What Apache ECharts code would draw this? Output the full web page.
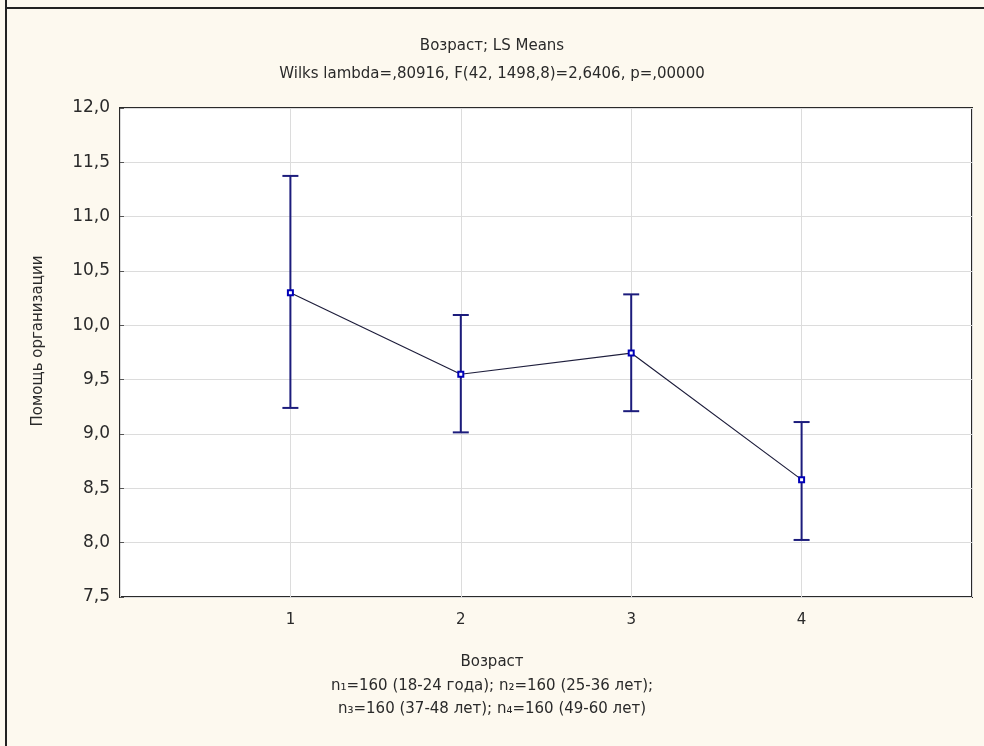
<!DOCTYPE html>
<html>
<head>
<meta charset="utf-8">
<script src="https://cdn.jsdelivr.net/npm/echarts@6/dist/echarts.min.js"></script>
<style>
html,body{margin:0;padding:0;background:#fdf9ef;}
#chart{width:984px;height:746px;}
</style>
</head>
<body>
<div id="chart"></div>
<script>
var categories = [1, 2, 3, 4];
var means = [10.30, 9.55, 9.745, 8.58];
var lower = [9.24, 9.015, 9.21, 8.025];
var upper = [11.375, 10.095, 10.285, 9.11];
var yTicks = [7.5, 8.0, 8.5, 9.0, 9.5, 10.0, 10.5, 11.0, 11.5, 12.0];

var titleText = 'Возраст; LS Means';
var subText = 'Wilks lambda=,80916, F(42, 1498,8)=2,6406, p=,00000';
var xName = 'Возраст';
var note1 = 'n₁=160 (18-24 года); n₂=160 (25-36 лет);';
var note2 = 'n₃=160 (37-48 лет); n₄=160 (49-60 лет)';
var yName = 'Помощь организации';

var font = 'DejaVu Sans, Verdana, sans-serif';
var txtColor = '#2a2a2a';
var chart = echarts.init(document.getElementById('chart'));

var lineData = categories.map(function (c, i) { return [c, means[i]]; });
var errData = categories.map(function (c, i) { return [c, lower[i], upper[i]]; });

function ts(size) {
  return { fontFamily: font, fontSize: size, fontWeight: 'normal', color: txtColor };
}

chart.setOption({
  backgroundColor: '#fdf9ef',
  animation: false,
  title: [
    { text: titleText, left: 'center', top: 34, textStyle: ts(15) },
    { text: subText, left: 'center', top: 62, textStyle: ts(15) },
    { text: xName, left: 'center', top: 650, textStyle: ts(15) },
    { text: note1, left: 'center', top: 674, textStyle: ts(15) },
    { text: note2, left: 'center', top: 697, textStyle: ts(15) }
  ],
  graphic: [
    { type: 'line', shape: { x1: 6, y1: 0, x2: 6, y2: 746 }, style: { stroke: '#222', lineWidth: 2 } },
    { type: 'line', shape: { x1: 6, y1: 8, x2: 984, y2: 8 }, style: { stroke: '#222', lineWidth: 2 } },
    {
      type: 'text', x: 38, y: 341, rotation: Math.PI / 2,
      style: { text: yName, fontFamily: font, fontSize: 15, fill: txtColor, align: 'center', verticalAlign: 'middle' }
    }
  ],
  grid: {
    left: 120, top: 108, right: 12, bottom: 149,
    show: true, backgroundColor: '#ffffff', borderColor: '#2a2a2a', borderWidth: 2
  },
  xAxis: {
    type: 'value', min: 0, max: 5, interval: 1,
    axisLine: { show: false },
    axisTick: { show: false },
    axisLabel: {
      fontFamily: font, fontSize: 15, color: txtColor, margin: 16,
      formatter: function (v) { return categories.indexOf(v) >= 0 ? String(v) : ''; }
    },
    splitLine: { show: true, lineStyle: { color: '#dcdcdc', width: 1 } }
  },
  yAxis: {
    type: 'value', min: yTicks[0], max: yTicks[yTicks.length - 1], interval: 0.5,
    axisLine: { show: false },
    axisTick: { show: true, inside: true, length: 4, lineStyle: { color: '#555' } },
    axisLabel: {
      fontFamily: font, fontSize: 17, color: txtColor, margin: 10,
      formatter: function (v) { return v.toFixed(1).replace('.', ','); }
    },
    splitLine: { show: true, lineStyle: { color: '#dcdcdc', width: 1 } }
  },
  series: [
    {
      type: 'custom',
      data: errData,
      z: 3,
      renderItem: function (params, api) {
        var x = api.value(0);
        var lo = api.coord([x, api.value(1)]);
        var hi = api.coord([x, api.value(2)]);
        var cap = 8;
        var st = { stroke: '#1c1c7c', lineWidth: 2 };
        return {
          type: 'group',
          children: [
            { type: 'line', shape: { x1: lo[0], y1: lo[1], x2: hi[0], y2: hi[1] }, style: st },
            { type: 'line', shape: { x1: lo[0] - cap, y1: lo[1], x2: lo[0] + cap, y2: lo[1] }, style: st },
            { type: 'line', shape: { x1: hi[0] - cap, y1: hi[1], x2: hi[0] + cap, y2: hi[1] }, style: st }
          ]
        };
      }
    },
    {
      type: 'line',
      data: lineData,
      z: 4,
      symbol: 'rect',
      symbolSize: 5,
      lineStyle: { color: '#1e1e3c', width: 1.2 },
      itemStyle: { color: '#ffffff', borderColor: '#0000b8', borderWidth: 2 }
    }
  ]
});
</script>
</body>
</html>
